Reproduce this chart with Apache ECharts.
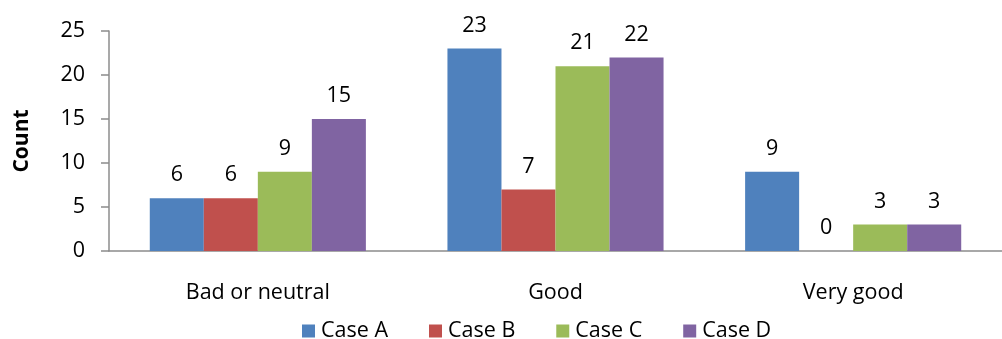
<!DOCTYPE html>
<html>
<head>
<meta charset="utf-8">
<script src="https://cdn.jsdelivr.net/npm/echarts@6/dist/echarts.min.js"></script>
<style>
  html, body { margin: 0; padding: 0; background: #fff; }
  #chart { width: 1002px; height: 339px; }
</style>
</head>
<body>
<div id="chart"></div>
<script>
// Ratings grouped by category, one series per case
const categories = ['Bad or neutral', 'Good', 'Very good'];
const seriesNames = ['Case A', 'Case B', 'Case C', 'Case D'];
const caseA = [6, 23, 9];
const caseB = [6, 7, 0];
const caseC = [9, 21, 3];
const caseD = [15, 22, 3];
const yTicks = [0, 5, 10, 15, 20, 25];

const colors = ['#4F81BD', '#C0504D', '#9BBB59', '#8064A2'];
const font = '"Open Sans", "Noto Sans", sans-serif';
const axisGray = '#8C8C8C';
const fs = 21.5;

const values = [caseA, caseB, caseC, caseD];

const chart = echarts.init(document.getElementById('chart'), null, { renderer: 'canvas' });

chart.setOption({
  animation: false,
  textStyle: { fontFamily: font, color: '#000' },
  grid: { left: 109, right: -9, top: 31, bottom: 88 },
  legend: {
    data: seriesNames,
    left: 297,
    top: 315,
    itemWidth: 13,
    itemHeight: 13,
    itemGap: 41,
    icon: 'rect',
    textStyle: { fontFamily: font, fontSize: fs, color: '#000', padding: [0, 0, 0, 1] }
  },
  xAxis: {
    type: 'category',
    data: categories,
    axisLine: { lineStyle: { color: axisGray, width: 1.5 } },
    axisTick: { show: false },
    axisLabel: { fontFamily: font, fontSize: fs, color: '#000', margin: 31 }
  },
  yAxis: {
    type: 'value',
    min: yTicks[0],
    max: yTicks[yTicks.length - 1],
    interval: yTicks[1] - yTicks[0],
    splitLine: { show: false },
    axisLine: { show: true, lineStyle: { color: axisGray, width: 1.5 } },
    axisTick: { show: true, length: 8, lineStyle: { color: axisGray, width: 1.5 } },
    axisLabel: { fontFamily: font, fontSize: fs, color: '#000', margin: 24 },
    name: 'Count',
    nameLocation: 'middle',
    nameRotate: 90,
    nameGap: 76,
    nameTextStyle: { fontFamily: font, fontSize: 21, fontWeight: 'bold', color: '#000' }
  },
  series: seriesNames.map((name, i) => ({
    name: name,
    type: 'bar',
    data: values[i],
    barGap: '0%',
    barCategoryGap: '27.4%',
    itemStyle: { color: colors[i] },
    label: {
      show: true,
      position: 'top',
      distance: 12,
      fontFamily: font,
      fontSize: fs,
      color: '#000'
    }
  }))
});
</script>
</body>
</html>
